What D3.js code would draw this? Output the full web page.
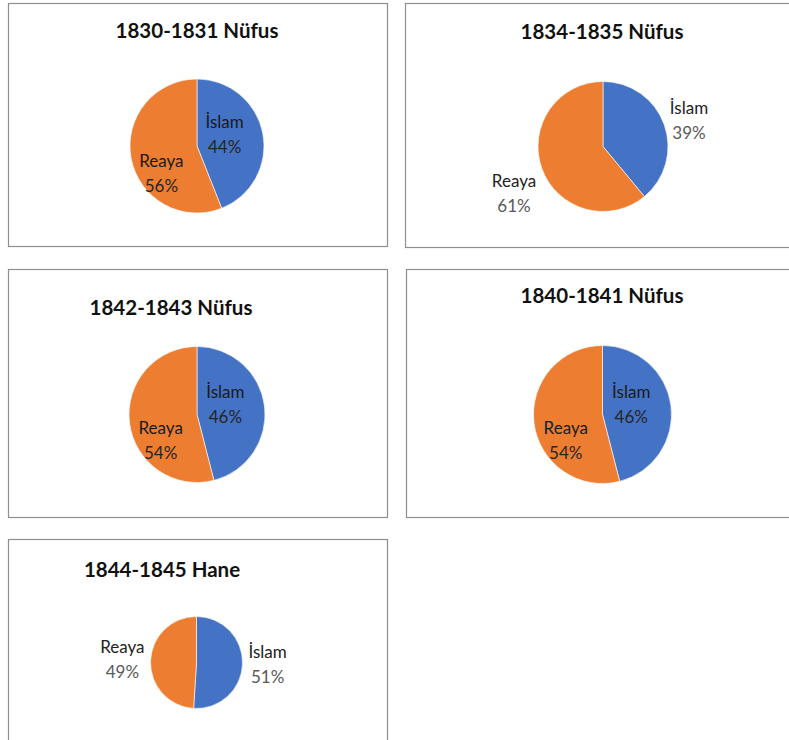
<!DOCTYPE html>
<html>
<head>
<meta charset="utf-8">
<script src="https://cdn.jsdelivr.net/npm/d3@7"></script>
<style>
  body { margin: 0; background: #fff; }
  svg { display: block; }
</style>
</head>
<body>
<script>
// data
const titles = ['1830-1831 Nüfus', '1834-1835 Nüfus', '1842-1843 Nüfus', '1840-1841 Nüfus', '1844-1845 Hane'];
const categories = ['İslam', 'Reaya'];
const islam = [44, 39, 46, 46, 51];
const reaya = [56, 61, 54, 54, 49];
const labelMode = ['inside', 'outside', 'inside', 'inside', 'outside'];

// layout of each chart box (excel-ish, not quite aligned)
const boxes = [
  {x: 8, y: 3, w: 379, h: 243, cx: 189, cy: 143, r: 67, tx: 189, ty: 35},
  {x: 405, y: 3, w: 390, h: 244, cx: 198, cy: 143.5, r: 65, tx: 197, ty: 36},
  {x: 8, y: 269, w: 379, h: 248, cx: 189, cy: 145.5, r: 68, tx: 163, ty: 46},
  {x: 406, y: 269, w: 390, h: 248, cx: 196.5, cy: 145.5, r: 69, tx: 196, ty: 34},
  {x: 8, y: 539, w: 379, h: 220, cx: 188.5, cy: 123.5, r: 46, tx: 154, ty: 38}
];

const width = 789, height = 740;
let colors = ['#4472C4', '#ED7D31'];
let font = 'Lato, "Open Sans", sans-serif';
let lineGap = 25;

const svg = d3.select('body').append('svg')
  .attr('width', width)
  .attr('height', height);

const pie = d3.pie().sort(null).value(d => d.value);

titles.forEach((title, i) => {
  let b = boxes[i];
  let data = [
    {cat: categories[0], value: islam[i]},
    {cat: categories[1], value: reaya[i]}
  ];
  let total = d3.sum(data, d => d.value);

  const g = svg.append('g')
    .attr('transform', `translate(${b.x},${b.y})`);

  g.append('rect')
    .attr('x', 0.5).attr('y', 0.5)
    .attr('width', b.w).attr('height', b.h)
    .attr('fill', '#fff')
    .attr('stroke', '#8f8f8f')
    .attr('stroke-width', 1.2);

  g.append('text')
    .attr('x', b.tx).attr('y', b.ty)
    .attr('text-anchor', 'middle')
    .attr('font-family', font)
    .attr('font-weight', 'bold')
    .attr('font-size', 20.5)
    .attr('fill', '#111')
    .text(title);

  let arc = d3.arc().innerRadius(0).outerRadius(b.r);
  let arcs = pie(data);

  const pg = g.append('g')
    .attr('transform', `translate(${b.cx},${b.cy})`);

  pg.selectAll('path')
    .data(arcs)
    .join('path')
      .attr('d', arc)
      .attr('fill', (d, j) => colors[j])
      .attr('stroke', '#fff')
      .attr('stroke-width', 0.6);

  let inside = labelMode[i] === 'inside';
  let inArc = d3.arc().innerRadius(b.r * 0.42).outerRadius(b.r * 0.42);
  let outArc = d3.arc().innerRadius(b.r + 6).outerRadius(b.r + 6);

  // returns [x, baseline of first line, anchor]
  let place = d => {
    if (inside) {
      let [x, y] = inArc.centroid(d);
      // excel nudges: islam up, reaya left & down
      return d.index === 0 ? [x, y - 13, 'middle'] : [x - 8, y + 16, 'middle'];
    }
    let [x, y] = outArc.centroid(d);
    let midY = y + Math.max(0, y);
    return [x, midY - 8, x > 0 ? 'start' : 'end'];
  };

  const lab = pg.selectAll('g.lab')
    .data(arcs)
    .join('g')
      .attr('class', 'lab')
      .attr('transform', d => {
        let p = place(d);
        return `translate(${p[0]},${p[1]})`;
      })
      .attr('font-family', font)
      .attr('font-size', 17)
      .attr('text-anchor', d => place(d)[2]);

  lab.append('text')
    .attr('y', 0)
    .attr('fill', inside ? '#1a1a1a' : '#222')
    .text(d => d.data.cat);

  // percent line is centred under the category word
  lab.append('text')
    .attr('y', lineGap)
    .attr('fill', inside ? '#262626' : '#595959')
    .text(d => Math.round(d.data.value / total * 100) + '%');

  if (!inside) {
    lab.each(function() {
      let t = d3.select(this).selectAll('text').nodes();
      let w0 = t[0].getComputedTextLength();
      let w1 = t[1].getComputedTextLength();
      let anchor = d3.select(this).attr('text-anchor');
      let sign = anchor === 'start' ? 1 : -1;
      d3.select(t[1]).attr('x', sign * (w0 - w1) / 2);
    });
  }
});
</script>
</body>
</html>
